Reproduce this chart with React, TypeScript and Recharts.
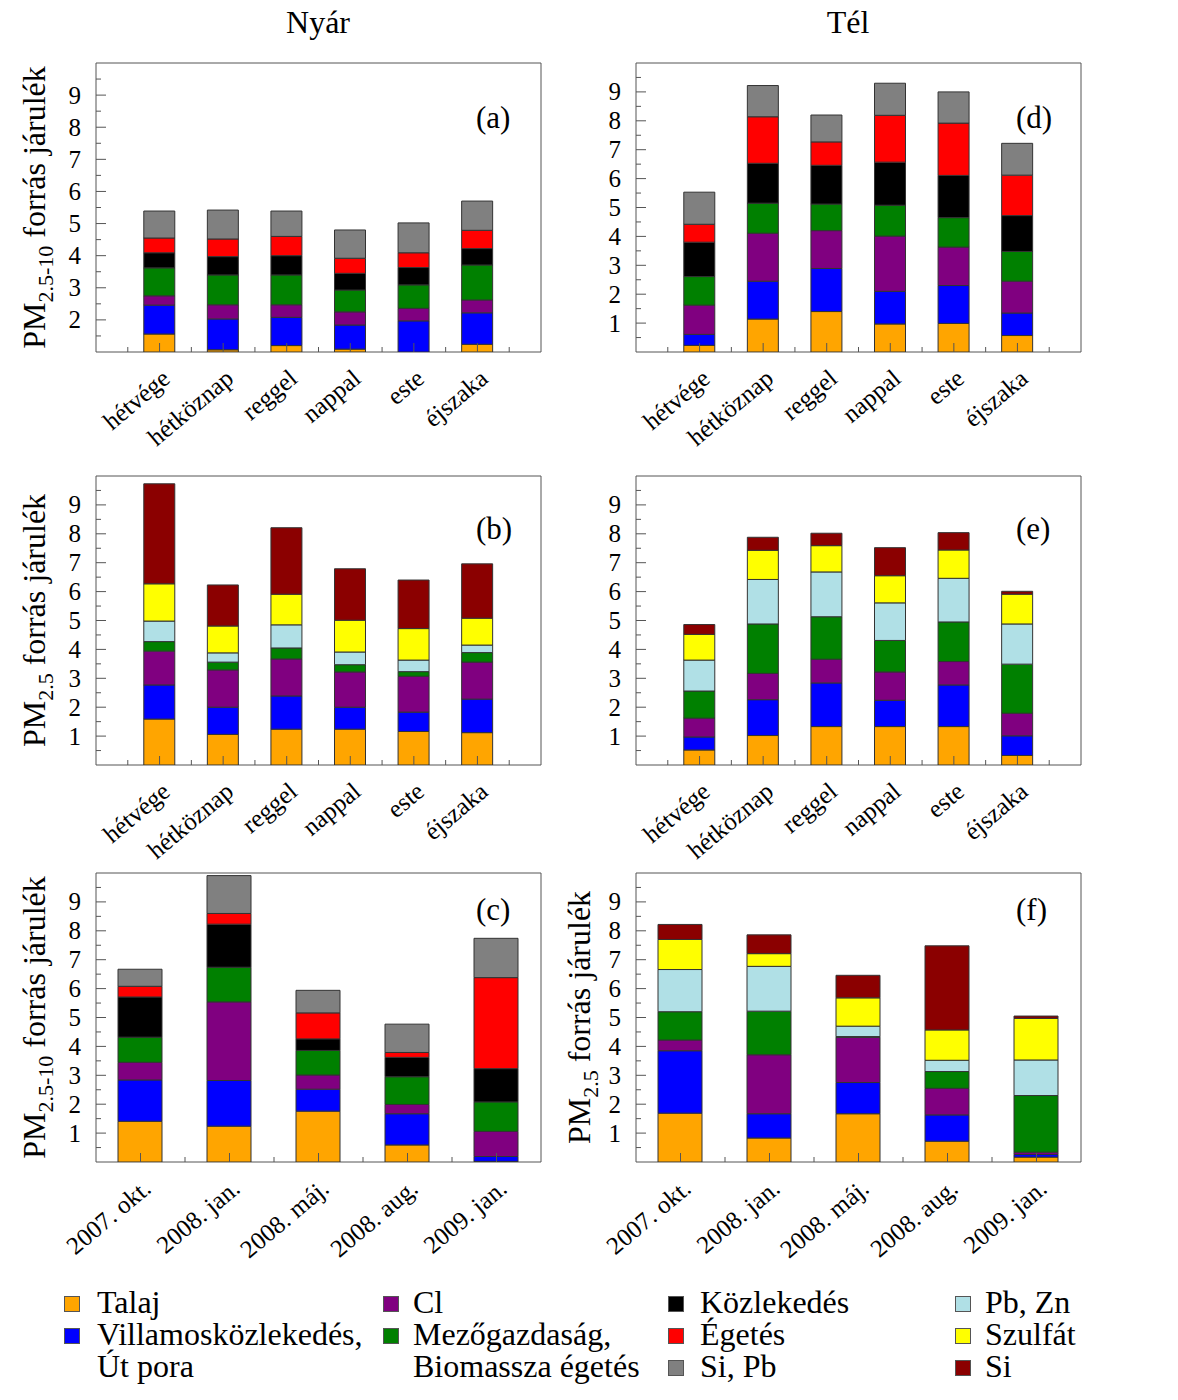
import React from "react";
import { Bar, BarChart, ReferenceArea, XAxis, YAxis } from "recharts";

const FONT = '"Liberation Serif", "Times New Roman", serif';

// category labels
const periods = ["hétvége", "hétköznap", "reggel", "nappal", "este", "éjszaka"];
const campaigns = ["2007. okt.", "2008. jan.", "2008. máj.", "2008. aug.", "2009. jan."];

// PM2.5-10 sources: Talaj, Villamosközl., Cl, Mezőgazd., Közlekedés, Égetés, Si Pb
const COARSE_COLORS = ["#FFA500", "#0000FF", "#800080", "#008000", "#000000", "#FF0000", "#808080"];
// PM2.5 sources: Talaj, Villamosközl., Cl, Mezőgazd., Pb Zn, Szulfát, Si
const FINE_COLORS = ["#FFA500", "#0000FF", "#800080", "#008000", "#B0E0E6", "#FFFF00", "#8B0000"];

// (a) nyár, PM2.5-10
const nyarCoarse = [
  [1.56, 1.07, 1.2, 1.09, 0.98, 1.24],
  [0.9, 0.96, 0.88, 0.75, 0.99, 0.98],
  [0.29, 0.44, 0.39, 0.41, 0.39, 0.4],
  [0.87, 0.93, 0.93, 0.68, 0.73, 1.09],
  [0.47, 0.57, 0.6, 0.52, 0.54, 0.51],
  [0.46, 0.55, 0.6, 0.47, 0.46, 0.57],
  [0.84, 0.9, 0.79, 0.88, 0.93, 0.91],
];

// (d) tél, PM2.5-10
const telCoarse = [
  [0.23, 1.14, 1.4, 0.97, 0.99, 0.57],
  [0.38, 1.31, 1.49, 1.13, 1.31, 0.78],
  [1.01, 1.66, 1.31, 1.91, 1.33, 1.1],
  [0.99, 1.04, 0.92, 1.07, 1.02, 1.03],
  [1.19, 1.38, 1.34, 1.49, 1.46, 1.24],
  [0.62, 1.61, 0.81, 1.62, 1.81, 1.4],
  [1.11, 1.08, 0.93, 1.11, 1.08, 1.1],
];

// (b) nyár, PM2.5
const nyarFine = [
  [1.59, 1.06, 1.24, 1.24, 1.16, 1.12],
  [1.18, 0.94, 1.15, 0.76, 0.67, 1.16],
  [1.17, 1.29, 1.28, 1.22, 1.24, 1.28],
  [0.33, 0.27, 0.38, 0.25, 0.16, 0.33],
  [0.71, 0.32, 0.8, 0.44, 0.4, 0.26],
  [1.29, 0.93, 1.06, 1.1, 1.09, 0.93],
  [3.46, 1.42, 2.3, 1.78, 1.68, 1.88],
];

// (e) tél, PM2.5
const telFine = [
  [0.52, 1.02, 1.33, 1.33, 1.33, 0.33],
  [0.45, 1.24, 1.51, 0.91, 1.44, 0.68],
  [0.65, 0.91, 0.82, 0.98, 0.81, 0.78],
  [0.94, 1.71, 1.47, 1.09, 1.37, 1.7],
  [1.07, 1.54, 1.55, 1.3, 1.51, 1.39],
  [0.89, 1.01, 0.91, 0.94, 0.98, 1.03],
  [0.34, 0.45, 0.43, 0.97, 0.6, 0.1],
];

// (c) campaigns, PM2.5-10
const campCoarse = [
  [1.41, 1.24, 1.76, 0.59, 0.02],
  [1.43, 1.58, 0.76, 1.08, 0.17],
  [0.61, 2.72, 0.49, 0.32, 0.87],
  [0.87, 1.2, 0.85, 0.96, 1.02],
  [1.39, 1.49, 0.4, 0.67, 1.15],
  [0.37, 0.37, 0.9, 0.17, 3.15],
  [0.59, 1.31, 0.78, 0.98, 1.36],
];

// (f) campaigns, PM2.5
const campFine = [
  [1.69, 0.83, 1.67, 0.72, 0.17],
  [2.16, 0.84, 1.08, 0.91, 0.09],
  [0.37, 2.04, 1.57, 0.92, 0.08],
  [0.98, 1.51, 0.02, 0.58, 1.96],
  [1.46, 1.55, 0.36, 0.39, 1.23],
  [1.04, 0.44, 0.98, 1.05, 1.44],
  [0.52, 0.65, 0.78, 2.91, 0.08],
];

const legendItems = [
  { col: 0, row: 0, color: "#FFA500", lines: ["Talaj"] },
  { col: 0, row: 1, color: "#0000FF", lines: ["Villamosközlekedés,", "Út pora"] },
  { col: 1, row: 0, color: "#800080", lines: ["Cl"] },
  { col: 1, row: 1, color: "#008000", lines: ["Mezőgazdaság,", "Biomassza égetés"] },
  { col: 2, row: 0, color: "#000000", lines: ["Közlekedés"] },
  { col: 2, row: 1, color: "#FF0000", lines: ["Égetés"] },
  { col: 2, row: 2, color: "#808080", lines: ["Si, Pb"] },
  { col: 3, row: 0, color: "#B0E0E6", lines: ["Pb, Zn"] },
  { col: 3, row: 1, color: "#FFFF00", lines: ["Szulfát"] },
  { col: 3, row: 2, color: "#8B0000", lines: ["Si"] },
];

const LEGEND_COLS = [
  { sq: 64, tx: 97 },
  { sq: 383, tx: 413 },
  { sq: 668, tx: 700 },
  { sq: 955, tx: 985 },
];

const AXIS = "#555";
const PLOT_W = 445;
const PLOT_H = 289;

function steps(from: number, to: number) {
  const out: number[] = [];
  for (let t = from; t <= to + 1e-9; t += 0.5) out.push(Math.round(t * 10) / 10);
  return out;
}

const isMajor = (v: number) => Math.abs(v - Math.round(v)) < 1e-6;

type PanelProps = {
  left: number;
  top: number;
  cats: string[];
  values: number[][];
  colors: string[];
  yMin: number;
  barSize: number;
  fine: boolean;
  labelOffset?: number;
};

function Panel({ left, top, cats, values, colors, yMin, barSize, fine, labelOffset }: PanelProps) {
  const rows = cats.map((name, i) => {
    const r: Record<string, number | string> = { name, pos: i + 1 };
    values.forEach((s, k) => (r["s" + k] = s[i]));
    return r;
  });
  const xDomain = cats.length === 6 ? [0, 7] : [0.5, 5.5];
  const xTicks = steps(xDomain[0] + 0.5, xDomain[1] - 0.5);
  const yTicks = steps(yMin + 0.5, 9.5);

  const xTick = (p: any) => {
    const { x, y, payload } = p;
    const v = payload.value;
    const major = isMajor(v);
    const tx = x + 12;
    const ty = y + 29;
    return (
      <g>
        <line x1={x} x2={x} y1={y} y2={y - (major ? 9 : 5)} stroke={AXIS} />
        {major && (
          <text
            x={tx}
            y={ty}
            textAnchor="end"
            transform={`rotate(-40 ${tx} ${ty})`}
            fontSize={25}
            fontFamily={FONT}
            fill="#000"
          >
            {cats[Math.round(v) - 1]}
          </text>
        )}
      </g>
    );
  };

  const yTick = (p: any) => {
    const { x, y, payload } = p;
    const v = payload.value;
    const major = isMajor(v);
    return (
      <g>
        <line x1={x} x2={x + (major ? 10 : 5)} y1={y} y2={y} stroke={AXIS} />
        {major && (
          <text x={x - 15} y={y} textAnchor="end" dominantBaseline="central" fontSize={25} fontFamily={FONT} fill="#000">
            {v}
          </text>
        )}
      </g>
    );
  };

  const yLabel = (p: any) => {
    const vb = p.viewBox;
    const x = vb.x + vb.width - (labelOffset ?? 50);
    const y = vb.y + vb.height / 2;
    return (
      <text x={x} y={y} transform={`rotate(-90 ${x} ${y})`} textAnchor="middle" fontFamily={FONT} fontSize={32} fill="#000">
        <tspan>PM</tspan>
        <tspan fontSize={22} dy={8}>
          {fine ? "2.5" : "2.5-10"}
        </tspan>
        <tspan dy={-8}>{"\u00a0forrás járulék"}</tspan>
      </text>
    );
  };

  return (
    <div style={{ position: "absolute", left, top }}>
      <BarChart width={560} height={20 + PLOT_H + 110} data={rows} margin={{ top: 20, right: 560 - 96 - PLOT_W, bottom: 0, left: 46 }}>
        <ReferenceArea
          x1={xDomain[0]}
          x2={xDomain[1]}
          y1={yMin}
          y2={10}
          fill="none"
          fillOpacity={0}
          stroke={AXIS}
          strokeWidth={1}
          ifOverflow="visible"
        />
        {values.map((_, k) => (
          <Bar
            key={k}
            dataKey={"s" + k}
            stackId="s"
            fill={colors[k]}
            stroke="#333"
            strokeWidth={1}
            barSize={barSize}
            isAnimationActive={false}
          />
        ))}
        <XAxis
          dataKey="pos"
          type="number"
          domain={xDomain}
          ticks={xTicks}
          interval={0}
          allowDataOverflow
          height={110}
          tickSize={0}
          tickMargin={0}
          axisLine={false}
          tickLine={false}
          tick={xTick}
        />
        <YAxis
          type="number"
          domain={[yMin, 10]}
          ticks={yTicks}
          interval={0}
          allowDataOverflow
          width={50}
          tickSize={0}
          tickMargin={0}
          axisLine={false}
          tickLine={false}
          tick={yTick}
          label={labelOffset !== undefined ? yLabel : undefined}
        />
      </BarChart>
    </div>
  );
}

const textStyle: React.CSSProperties = {
  position: "absolute",
  fontFamily: FONT,
  fontSize: 32,
  lineHeight: "32px",
  color: "#000",
  whiteSpace: "nowrap",
};

export default function App() {
  return (
    <div style={{ position: "absolute", left: 0, top: 0, width: 1178, height: 1400, background: "#fff", overflow: "hidden" }}>
      <div style={{ ...textStyle, left: 218, width: 200, textAlign: "center", top: 6 }}>Nyár</div>
      <div style={{ ...textStyle, left: 748, width: 200, textAlign: "center", top: 6 }}>Tél</div>

      <Panel left={0} top={43} cats={periods} values={nyarCoarse} colors={COARSE_COLORS} yMin={1} barSize={31} fine={false} labelOffset={51} />
      <Panel left={540} top={43} cats={periods} values={telCoarse} colors={COARSE_COLORS} yMin={0} barSize={31} fine={false} />
      <Panel left={0} top={456} cats={periods} values={nyarFine} colors={FINE_COLORS} yMin={0} barSize={31} fine labelOffset={51} />
      <Panel left={540} top={456} cats={periods} values={telFine} colors={FINE_COLORS} yMin={0} barSize={31} fine />
      <Panel left={0} top={853} cats={campaigns} values={campCoarse} colors={COARSE_COLORS} yMin={0} barSize={44} fine={false} labelOffset={51} />
      <Panel left={540} top={853} cats={campaigns} values={campFine} colors={FINE_COLORS} yMin={0} barSize={44} fine labelOffset={46} />

      <div style={{ ...textStyle, fontSize: 31, left: 476, top: 102 }}>(a)</div>
      <div style={{ ...textStyle, fontSize: 31, left: 1016, top: 102 }}>(d)</div>
      <div style={{ ...textStyle, fontSize: 31, left: 476, top: 513 }}>(b)</div>
      <div style={{ ...textStyle, fontSize: 31, left: 1016, top: 513 }}>(e)</div>
      <div style={{ ...textStyle, fontSize: 31, left: 476, top: 894 }}>(c)</div>
      <div style={{ ...textStyle, fontSize: 31, left: 1016, top: 894 }}>(f)</div>

      {legendItems.map((it) => {
        const c = LEGEND_COLS[it.col];
        const rowTop = 1286 + it.row * 32;
        return (
          <React.Fragment key={it.lines[0]}>
            <div
              style={{
                position: "absolute",
                left: c.sq,
                top: rowTop + 10,
                width: 14,
                height: 14,
                background: it.color,
                border: "1px solid #555",
              }}
            />
            {it.lines.map((line, j) => (
              <div key={line} style={{ ...textStyle, left: c.tx, top: rowTop + j * 32 }}>
                {line}
              </div>
            ))}
          </React.Fragment>
        );
      })}
    </div>
  );
}
